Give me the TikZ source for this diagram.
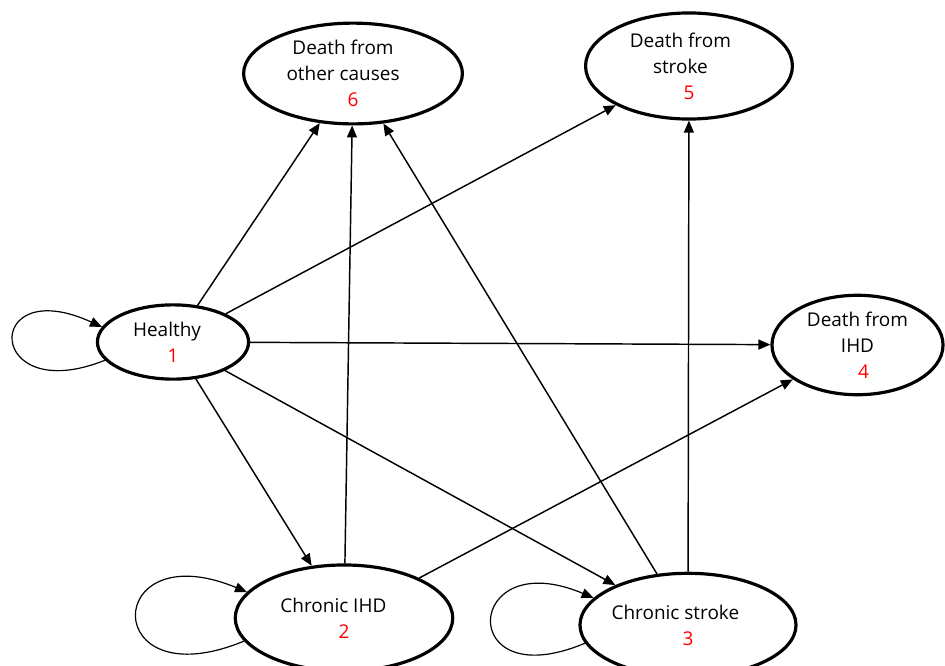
\documentclass[tikz,border=0pt]{standalone}
\usepackage{fontspec}
\setmainfont{Open Sans}
\usepackage{tikz}
\usetikzlibrary{arrows.meta,shapes.geometric}

\newcommand{\statenum}[1]{{\color{red}#1}}
\newcommand{\padr}[1]{\hspace*{#1}\mbox{}}

\begin{document}
\begin{tikzpicture}[x=0.0265cm,y=-0.0265cm,
       state/.style={draw,ellipse,line width=2.4pt,inner sep=0pt,align=center,
        font=\fontsize{14.3}{19.5}\selectfont},
       link/.style={-{Triangle[length=9pt,width=7.5pt]},line width=1.1pt},
       selfloop/.style={-{Triangle[length=9pt,width=7.5pt]},line width=0.9pt}]
       \useasboundingbox (0,0) rectangle (945,665);
       \node[state,minimum width=114pt,minimum height=56pt] (healthy) at (173,342)
        {Healthy\padr{9pt}\\\statenum{1}};
       \node[state,minimum width=164pt,minimum height=80pt] (chrihd) at (344,618)
        {Chronic IHD\padr{16pt}\\\statenum{2}};
       \node[state,minimum width=161pt,minimum height=78pt] (chrstroke) at (688,625)
        {Chronic stroke\padr{19pt}\\\statenum{3}};
       \node[state,minimum width=129pt,minimum height=75pt] (dihd) at (857.5,345)
        {Death from\\IHD\\\hspace*{9pt}\statenum{4}};
       \node[state,minimum width=156pt,minimum height=80pt] (dstroke) at (689,66)
        {Death from\padr{13pt}\\stroke\padr{13pt}\\\statenum{5}};
       \node[state,minimum width=165pt,minimum height=76pt] (dother) at (353,73.5)
        {Death from\padr{15pt}\\other causes\padr{15pt}\\\statenum{6}};
       \draw[selfloop] (healthy.195) .. controls +(-120,48) and +(-120,-55) .. (healthy.168);
       \draw[selfloop] (chrihd.193) .. controls +(-145,60) and +(-145,-60) .. (chrihd.165);
       \draw[selfloop] (chrstroke.190) .. controls +(-130,55) and +(-130,-55) .. (chrstroke.164);
       \draw[link] (healthy) -- (dother);
       \draw[link] (healthy) -- (dstroke);
       \draw[link] (healthy) -- (dihd);
       \draw[link] (healthy) -- (chrihd);
       \draw[link] (healthy) -- (chrstroke);
       \draw[link] (chrihd) -- (dother);
       \draw[link] (chrihd) -- (dihd);
       \draw[link] (chrstroke) -- (dother);
       \draw[link] (chrstroke) -- (dstroke);
      \end{tikzpicture}
\end{document}
